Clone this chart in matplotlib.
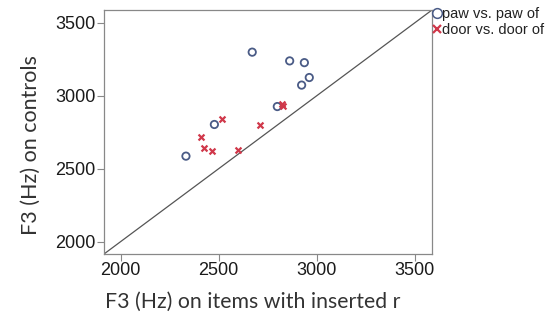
import matplotlib
matplotlib.use('Agg')
import matplotlib.pyplot as plt
from matplotlib.lines import Line2D

# F3 values (Hz): x = items with inserted r, y = controls
paw_x = [2671, 2862, 2937, 2962, 2923, 2799, 2478, 2333]
paw_y = [3299, 3239, 3227, 3125, 3073, 2926, 2803, 2586]
door_x = [2515, 2410, 2423, 2466, 2600, 2711, 2822, 2830]
door_y = [2844, 2716, 2645, 2618, 2627, 2799, 2945, 2932]

ticks = [2000, 2500, 3000, 3500]
lims = (1915, 3588)

fig = plt.figure(figsize=(5.55, 3.29), dpi=100)
ax = fig.add_axes([104 / 555, 1 - 254 / 329, 328 / 555, 244 / 329])

# y = x reference line across the whole box
ax.plot(lims, lims, color='#555555', linewidth=0.9, zorder=1)

ax.scatter(paw_x, paw_y, s=28, facecolors='none', edgecolors='#4a5b86',
           linewidths=1.3, zorder=3)
ax.scatter(door_x, door_y, s=18, marker='x', color='#d0384a',
           linewidths=1.6, zorder=3)

ax.set_xlim(lims)
ax.set_ylim(lims)
ax.set_xticks(ticks)
ax.set_yticks(ticks)
ax.tick_params(length=5, width=0.8, color='#888888', pad=1,
               labelsize=13, labelcolor='#1a1a1a')
for lab in ax.get_xticklabels() + ax.get_yticklabels():
    lab.set_family('Liberation Sans')
for sp in ax.spines.values():
    sp.set_color('#888888')
    sp.set_linewidth(0.9)

fig.text(253 / 555, 1 - 302 / 329, 'F3 (Hz) on items with inserted r',
         ha='center', va='center', fontsize=15.3, family='Lato', color='#333333')
fig.text(31 / 555, 1 - 145 / 329, 'F3 (Hz) on controls', rotation=90,
         ha='center', va='center', fontsize=15.5, family='Lato', color='#333333')

handles = [
    Line2D([], [], linestyle='none', marker='o', markersize=7,
           markerfacecolor='none', markeredgecolor='#4a5b86', markeredgewidth=1.1),
    Line2D([], [], linestyle='none', marker='x', markersize=6,
           color='#d0384a', markeredgewidth=1.6),
]
fig.legend(handles, ['paw vs. paw of', 'door vs. door of'],
           loc='upper left', bbox_to_anchor=(433 / 555, 1 - 7 / 329),
           frameon=False, handlelength=0.6, handletextpad=0.05,
           labelspacing=0.15, borderaxespad=0, borderpad=0,
           labelcolor='#222222',
           prop={'family': 'Liberation Sans', 'size': 10.5})

fig.savefig('out.png', dpi=100)
